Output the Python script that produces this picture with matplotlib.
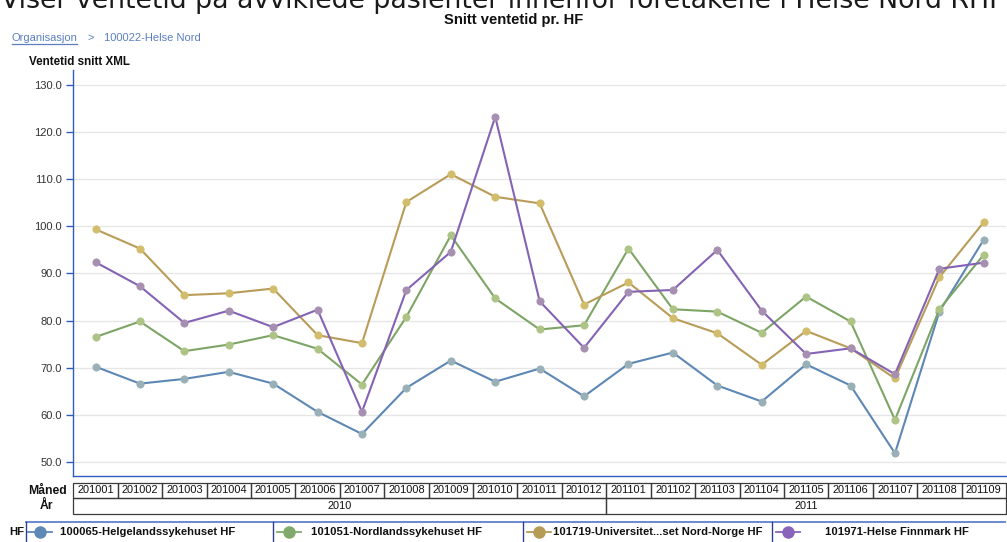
import matplotlib
matplotlib.use('Agg')
import matplotlib.pyplot as plt
from matplotlib.patches import Rectangle

# ---------------- data ----------------
months = ['201001', '201002', '201003', '201004', '201005', '201006', '201007',
          '201008', '201009', '201010', '201011', '201012', '201101', '201102',
          '201103', '201104', '201105', '201106', '201107', '201108', '201109']
helgeland = [70.2, 66.6, 67.6, 69.1, 66.6, 60.6, 55.9, 65.7, 71.5, 67.0, 69.8,
             63.9, 70.8, 73.2, 66.2, 62.8, 70.7, 66.2, 51.8, 81.9, 97.2]
nordland = [76.5, 79.8, 73.5, 74.9, 76.9, 74.0, 66.4, 80.8, 98.1, 84.7, 78.1,
            79.0, 95.3, 82.4, 81.9, 77.4, 85.1, 79.8, 58.9, 82.4, 94.0]
unn = [99.4, 95.3, 85.4, 85.8, 86.8, 76.9, 75.2, 105.2, 111.1, 106.3, 104.9,
       83.4, 88.1, 80.5, 77.3, 70.6, 77.8, 74.1, 67.7, 89.2, 100.9]
finnmark = [92.4, 87.3, 79.5, 82.1, 78.6, 82.3, 60.6, 86.5, 94.6, 123.3, 84.1,
            74.2, 86.1, 86.5, 95.0, 82.1, 72.9, 74.1, 68.6, 91.0, 92.3]
series_names = ['100065-Helgelandssykehuset HF', '101051-Nordlandssykehuset HF',
                '101719-Universitet...set Nord-Norge HF', '101971-Helse Finnmark HF']
yticks = [50, 60, 70, 80, 90, 100, 110, 120, 130]

# ---------------- styles ----------------
line_cols = ['#5d87b4', '#7da565', '#b89c58', '#8463b4']
mk_face = ['#98b0b6', '#aec486', '#d2bd6c', '#a68fb0']
leg_cols = ['#5f88b6', '#80aa6c', '#b69b56', '#8a64ba']
blue_axis = '#2f5dbf'

W, H = 1007, 542
fig = plt.figure(figsize=(W / 100, H / 100), dpi=100)
fig.patch.set_facecolor('white')

FONT = 'Liberation Sans'

# overlay for free texts (pixel coordinates)
ov = fig.add_axes([0, 0, 1, 1], zorder=0)
ov.set_xlim(0, W)
ov.set_ylim(H, 0)
ov.axis('off')

ov.text(503, 8, 'Viser ventetid på avviklede pasienter innenfor foretakene i Helse Nord RHF',
        ha='center', va='baseline', fontsize=19.3, color='#1a1a1a', family='DejaVu Sans')
ov.text(514, 20, 'Snitt ventetid pr. HF', ha='center', va='center',
        fontsize=10.6, fontweight='bold', family=FONT, color='#111111')
crumb_col = '#5b7fc2'
ov.text(12, 38, 'Organisasjon', ha='left', va='center', fontsize=8,
        family=FONT, color=crumb_col)
ov.plot([12, 77], [44, 44], color=crumb_col, lw=0.9)
ov.text(88, 38, '>', ha='left', va='center', fontsize=8, family=FONT, color=crumb_col)
ov.text(104, 38, '100022-Helse Nord', ha='left', va='center', fontsize=8,
        family=FONT, color=crumb_col)
ov.text(29, 62, 'Ventetid snitt XML', ha='left', va='center', fontsize=8.4,
        fontweight='bold', family=FONT, color='#111111')

# ---------------- main chart ----------------
L, R, T, B = 73.3, 1006.0, 70.0, 476.0
ax = fig.add_axes([L / W, 1 - B / H, (R - L) / W, (B - T) / H], zorder=2)
ax.patch.set_alpha(0)
x = list(range(len(months)))
for vals, lc, mf in zip([helgeland, nordland, unn, finnmark], line_cols, mk_face):
    ax.plot(x, vals, color=lc, lw=1.5, marker='o', markersize=5.2,
            markerfacecolor=mf, markeredgecolor=mf, markeredgewidth=0.6, zorder=3)

ax.set_xlim(-0.5, len(months) - 0.5)
ax.set_ylim(46.97, 133.24)
ax.set_yticks(yticks)
ax.set_yticklabels([f'{v:.1f}' for v in yticks], fontsize=8, family=FONT, color='#333333')
ax.set_xticks([])
ax.grid(axis='y', color='#e6e6e6', lw=1.0)
ax.set_axisbelow(True)
for s in ['top', 'right']:
    ax.spines[s].set_visible(False)
for s in ['left', 'bottom']:
    ax.spines[s].set_color(blue_axis)
    ax.spines[s].set_linewidth(1.0)
ax.tick_params(axis='y', direction='out', length=5, width=1, color=blue_axis, pad=3)

# ---------------- month / year table ----------------
tab = fig.add_axes([L / W, 1 - 514.3 / H, (R - L) / W, (514.3 - 483.3) / H], zorder=2)
tab.set_xlim(-0.5, len(months) - 0.5)
tab.set_ylim(514.3, 483.3)
tab.axis('off')
edge = '#3a3a3a'
for i, m in enumerate(months):
    tab.add_patch(Rectangle((i - 0.5, 483.3), 1, 14.4, fill=False, ec=edge, lw=0.9,
                            clip_on=False))
    tab.text(i, 490.5, m, ha='center', va='center', fontsize=7.9, family=FONT,
             color='#111111')
years = []
for i, m in enumerate(months):
    yv = m[:4]
    if not years or years[-1][0] != yv:
        years.append([yv, i, i])
    else:
        years[-1][2] = i
for yv, a, b in years:
    tab.add_patch(Rectangle((a - 0.5, 497.7), b - a + 1, 16.6, fill=False, ec=edge,
                            lw=0.9, clip_on=False))
    tab.text((a + b) / 2, 506, yv, ha='center', va='center', fontsize=7.9,
             family=FONT, color='#111111')

ov.text(67, 490.5, 'Måned', ha='right', va='center', fontsize=8.8, fontweight='bold',
        family=FONT, color='#111111')
ov.text(46, 506, 'År', ha='center', va='center', fontsize=8.8, fontweight='bold',
        family=FONT, color='#111111')

# ---------------- legend ----------------
ov.plot([26, 1005], [522, 522], color='#5f7fd0', lw=1.3)
for xb in [26, 273.3, 522.7, 771.7]:
    ov.plot([xb, xb], [522, 545], color='#2d3f8f', lw=1.0)
ov.text(9, 532, 'HF', ha='left', va='center', fontsize=8.2, fontweight='bold',
        family=FONT, color='#111111')
leg_marker_x = [40, 289.3, 539.3, 788.3]
leg_text_x = [60, 311, 553, 825]
for name, col, mx, tx in zip(series_names, leg_cols, leg_marker_x, leg_text_x):
    ov.plot([mx - 12, mx + 12], [532, 532], color=col, lw=1.3)
    ov.plot([mx], [532], marker='o', markersize=9, color=col, markeredgewidth=0)
    ov.text(tx, 532, name, ha='left', va='center', fontsize=8.1, fontweight='bold',
            family=FONT, color='#111111')

fig.savefig('out.png', dpi=100)
